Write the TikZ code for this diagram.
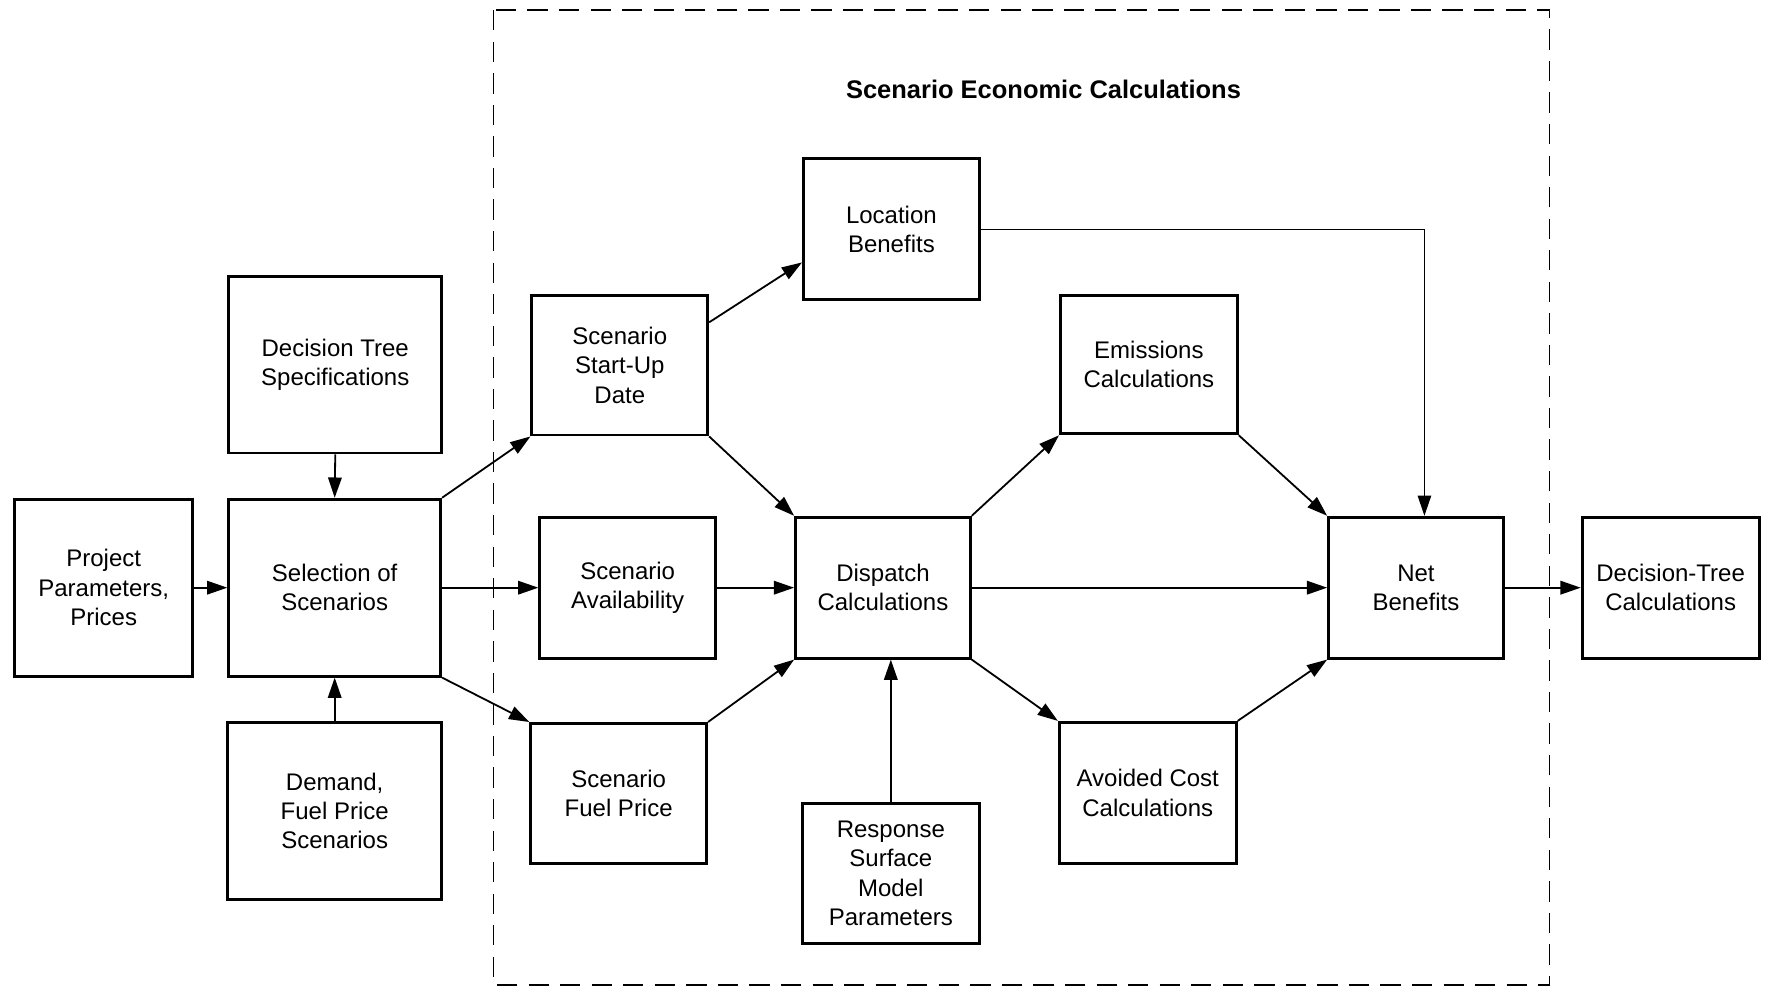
\documentclass[tikz,border=0pt]{standalone}
\usepackage{fontspec}
\setmainfont{Liberation Sans}
\usetikzlibrary{arrows.meta,calc}
\begin{document}
\begin{tikzpicture}[x=1pt,y=-1pt,
  blk/.style={draw, line width=2.6pt, align=center, inner sep=0pt,
    font=\fontsize{21.3}{26}\selectfont},
  conn/.style={line width=1.6pt, -{Triangle[length=18pt,width=12pt]}},
  thinconn/.style={line width=1.1pt, -{Triangle[length=18pt,width=12pt]}},
  frame/.style={line width=1.3pt, dash pattern=on 18pt off 10pt}]
\useasboundingbox (0,0) rectangle (1568,877);

% scenario economic calculations frame
\draw[frame] (438,9) rectangle (1375,874);
\node[font=\fontsize{22.6}{26}\selectfont\bfseries] (title) at (926,79) {Scenario Economic Calculations};

% inputs and scenario selection
\node[blk, minimum width=158, minimum height=157] (pp) at (92,521.5) {Project\\Parameters,\\Prices};
\node[blk, minimum width=189, minimum height=157] (dts) at (297.5,323.5) {Decision Tree\\Specifications};
\node[blk, minimum width=188, minimum height=157] (sel) at (297,521.5) {Selection of\\Scenarios};
\node[blk, minimum width=190, minimum height=157] (dem) at (297,719.5) {Demand,\\Fuel Price\\Scenarios};

% scenario blocks
\node[blk, minimum width=156, minimum height=124] (su) at (550,324) {Scenario\\Start-Up\\Date};
\node[blk, minimum width=156, minimum height=125] (av) at (557,521.5) {Scenario\\Availability};
\node[blk, minimum width=156, minimum height=124] (fp) at (549,704) {Scenario\\Fuel Price};

% calculations
\node[blk, minimum width=156, minimum height=125] (lb) at (791,203.5) {Location\\Benefits};
\node[blk, minimum width=155, minimum height=125] (dc) at (783.5,521.5) {Dispatch\\Calculations};
\node[blk, minimum width=157, minimum height=124] (rs) at (790.5,775) {Response\\Surface\\Model\\Parameters};
\node[blk, minimum width=157, minimum height=123] (em) at (1019.5,323.5) {Emissions\\Calculations};
\node[blk, minimum width=157, minimum height=125] (ac) at (1018.5,703.5) {Avoided Cost\\Calculations};
\node[blk, minimum width=155, minimum height=125] (nb) at (1256.5,521.5) {Net\\Benefits};
\node[blk, minimum width=157, minimum height=125] (dt) at (1482.5,521.5) {Decision-Tree\\Calculations};

\coordinate (drop) at (1264,0);

% connectors
\draw[conn] (pp.east) -- (sel.west);
\draw[conn] (dts.south) -- (sel.north);
\draw[conn] (dem.north) -- (sel.south);
\draw[conn] (sel.north east) -- (su.south west);
\draw[conn] (sel.east) -- (av.west);
\draw[conn] (sel.south east) -- (fp.north west);
\draw[conn] ($(su.north east)!0.2!(su.south east)$) -- ($(lb.north west)!0.73!(lb.south west)$);
\draw[conn] (su.south east) -- (dc.north west);
\draw[conn] (av.east) -- (dc.west);
\draw[conn] (fp.north east) -- (dc.south west);
\draw[conn] (rs.north) -- (rs.north |- dc.south);
\draw[conn] (dc.north east) -- (em.south west);
\draw[conn] (dc.east) -- (nb.west);
\draw[conn] (dc.south east) -- (ac.north west);
\draw[conn] (em.south east) -- (nb.north west);
\draw[conn] (ac.north east) -- (nb.south west);
\draw[thinconn] (lb.east) -| (drop |- nb.north);
\draw[conn] (nb.east) -- (dt.west);
\end{tikzpicture}
\end{document}
